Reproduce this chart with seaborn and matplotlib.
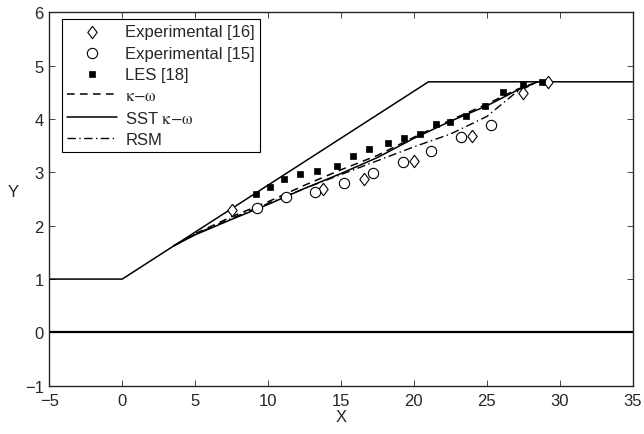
import pandas as pd
import seaborn as sns
import matplotlib.pyplot as plt

# Geometry of the channel walls
wall_x = [-5, 0, 21, 35]
wall_y = [1, 1, 4.7, 4.7]
floor_x = [-5, 35]
floor_y = [0, 0]

# Experimental [16] (diamonds)
exp16_x = [7.5, 13.8, 16.6, 20.0, 24.0, 27.5, 29.2]
exp16_y = [2.30, 2.69, 2.88, 3.22, 3.68, 4.49, 4.70]

# Experimental [15] (circles)
exp15_x = [9.25, 11.25, 13.2, 15.2, 17.2, 19.25, 21.2, 23.2, 25.3]
exp15_y = [2.33, 2.54, 2.63, 2.81, 2.99, 3.20, 3.41, 3.67, 3.89]

# LES [18] (squares)
les_x = [9.2, 10.1, 11.1, 12.2, 13.35, 14.7, 15.8, 16.9, 18.2, 19.3, 20.45,
         21.5, 22.5, 23.6, 24.9, 26.1, 27.5, 28.8]
les_y = [2.59, 2.73, 2.88, 2.97, 3.03, 3.13, 3.30, 3.44, 3.55, 3.64, 3.73,
         3.90, 3.95, 4.06, 4.25, 4.50, 4.66, 4.69]

# Model results
model_x = [3.5, 5, 7.5, 10, 12.5, 15, 17.5, 20, 22.5, 25, 27, 28.5]
kw_y = [1.62, 1.85, 2.17, 2.45, 2.76, 3.05, 3.32, 3.66, 3.98, 4.28, 4.55, 4.70]
sst_y = [1.62, 1.83, 2.12, 2.40, 2.70, 2.98, 3.28, 3.64, 3.96, 4.25, 4.53, 4.70]
rsm_y = [1.62, 1.84, 2.14, 2.42, 2.70, 2.96, 3.22, 3.48, 3.72, 4.05, 4.50, 4.70]

sns.set_style("ticks")
plt.rcParams['font.family'] = ['Liberation Sans', 'DejaVu Sans']
plt.rcParams['mathtext.fontset'] = 'stix'
plt.rcParams['font.size'] = 12
plt.rcParams['xtick.direction'] = 'in'
plt.rcParams['ytick.direction'] = 'in'

fig = plt.figure(figsize=(6.44, 4.35), dpi=100)
ax = fig.add_axes([0.0766, 0.111, 0.9058, 0.858])

diamond = [(0, 1), (0.75, 0), (0, -1), (-0.75, 0), (0, 1)]

# walls
sns.lineplot(x=wall_x, y=wall_y, color='black', lw=1.1, sort=False, estimator=None, ax=ax)
sns.lineplot(x=floor_x, y=floor_y, color='black', lw=1.6, sort=False, estimator=None, ax=ax)

# model curves
sns.lineplot(x=model_x, y=kw_y, color='black', lw=1.1, linestyle=(0, (5, 3.5)),
             sort=False, estimator=None, ax=ax, label=r'$\mathrm{\kappa{-}\omega}$')
sns.lineplot(x=model_x, y=sst_y, color='black', lw=1.1, linestyle='-',
             sort=False, estimator=None, ax=ax, label=r'SST $\mathrm{\kappa{-}\omega}$')
sns.lineplot(x=model_x, y=rsm_y, color='black', lw=1.0, linestyle=(0, (6, 2.5, 1, 2.5)),
             sort=False, estimator=None, ax=ax, label='RSM')

# symbols
sns.scatterplot(x=exp16_x, y=exp16_y, marker=diamond, s=80, facecolor='white',
                edgecolor='black', linewidth=0.8, ax=ax, label='Experimental [16]', zorder=4)
sns.scatterplot(x=exp15_x, y=exp15_y, marker='o', s=55, facecolor='white',
                edgecolor='black', linewidth=0.8, ax=ax, label='Experimental [15]', zorder=4)
sns.scatterplot(x=les_x, y=les_y, marker='s', s=20, color='black',
                edgecolor='black', linewidth=0.5, ax=ax, label='LES [18]', zorder=4)

ax.set_xlim(-5, 35)
ax.set_ylim(-1, 6)
ax.set_xticks(range(-5, 36, 5))
ax.set_yticks(range(-1, 7))
ax.set_xticklabels(['\u22125'] + [str(v) for v in range(0, 36, 5)])
ax.set_yticklabels(['\u22121'] + [str(v) for v in range(0, 7)])
ax.tick_params(top=True, right=True, length=4, width=0.6, labelsize=12)
ax.tick_params(axis='x', pad=5)
ax.tick_params(axis='y', pad=4)
for sp in ax.spines.values():
    sp.set_linewidth(1.0)
    sp.set_visible(True)
ax.set_xlabel('X', labelpad=1)
ax.set_ylabel('Y', rotation=0, labelpad=8)

handles, labels = ax.get_legend_handles_labels()
order = [3, 4, 5, 0, 1, 2]
leg = ax.legend([handles[i] for i in order], [labels[i] for i in order],
                loc='upper left', bbox_to_anchor=(0.022, 0.982), borderaxespad=0,
                fancybox=False, framealpha=1, edgecolor='black', handlelength=3.0,
                labelspacing=0.38, handletextpad=0.5, borderpad=0.3, fontsize=12)
leg.get_frame().set_linewidth(0.8)

fig.savefig('out.png', dpi=100)
